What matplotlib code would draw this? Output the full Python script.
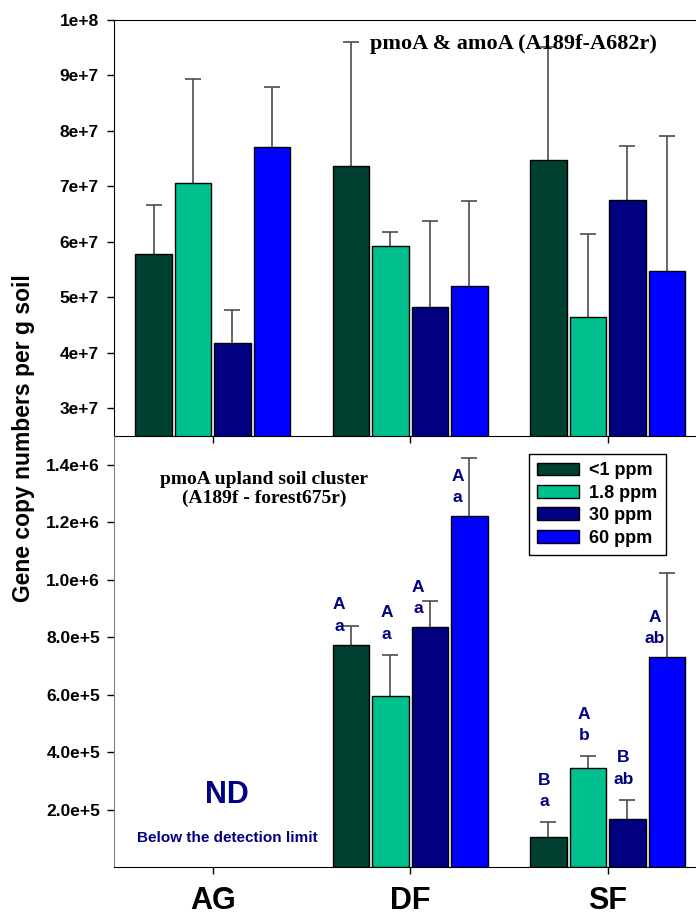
import numpy as np
import matplotlib
matplotlib.use("Agg")
import matplotlib.pyplot as plt
from matplotlib.ticker import FixedLocator, FuncFormatter
from matplotlib.patches import Patch

# ---------------------------------------------------------
# data
# rows = CH4 treatment, columns = site (AG, DF, SF)
# ---------------------------------------------------------
sites = ["AG", "DF", "SF"]
treatments = ["<1 ppm", "1.8 ppm", "30 ppm", "60 ppm"]
colors = ["#004030", "#00C08F", "#000080", "#0000FF"]

# pmoA & amoA (A189f-A682r)
total_mean = np.array([[5.79e7, 7.37e7, 7.47e7],
                       [7.06e7, 5.93e7, 4.64e7],
                       [4.18e7, 4.82e7, 6.75e7],
                       [7.71e7, 5.20e7, 5.47e7]])
total_err = np.array([[0.88e7, 2.23e7, 2.05e7],
                      [1.88e7, 0.25e7, 1.50e7],
                      [0.59e7, 1.55e7, 0.98e7],
                      [1.08e7, 1.53e7, 2.44e7]])

# pmoA upland soil cluster (A189f - forest675r), AG not detected
usc_mean = np.array([[np.nan, 7.73e5, 1.03e5],
                     [np.nan, 5.94e5, 3.43e5],
                     [np.nan, 8.35e5, 1.66e5],
                     [np.nan, 1.221e6, 7.30e5]])
usc_err = np.array([[np.nan, 0.66e5, 0.53e5],
                    [np.nan, 1.44e5, 0.43e5],
                    [np.nan, 0.91e5, 0.68e5],
                    [np.nan, 2.02e5, 2.95e5]])

# significance letters (upper: site, lower: treatment)
usc_letters = [[None, "A\na", "B\na"],
               [None, "A\na", "A\nb"],
               [None, "A\na", "B\nab"],
               [None, "A\na", "A\nab"]]
# letter sits beside the whisker instead of on top of it
beside = [[False, True, False],
          [False, False, False],
          [False, True, False],
          [False, True, True]]

top_ticks = [3e7, 4e7, 5e7, 6e7, 7e7, 8e7, 9e7, 1e8]
bot_ticks = [2e5, 4e5, 6e5, 8e5, 1.0e6, 1.2e6, 1.4e6]

# ---------------------------------------------------------
# figure
# ---------------------------------------------------------
SANS = "Liberation Sans"
SERIF = "Liberation Serif"
plt.rcParams["font.family"] = [SANS, "DejaVu Sans"]
plt.rcParams["font.weight"] = "bold"

fig = plt.figure(figsize=(6.96, 9.17), dpi=100)
ax1 = fig.add_axes([0.1638, 0.5245, 0.8362, 0.4537])
ax2 = fig.add_axes([0.1638, 0.0545, 0.8362, 0.4700])
ax2.patch.set_visible(False)   # keep the top panel's bottom spine visible

x = np.arange(len(sites))
offs = (np.arange(len(treatments)) - 1.5) * 0.2
width = 0.185


def upper_whiskers(ax, xs, mean, err):
    # one-sided error bars: line from bar top, cap at the end only
    ax.vlines(xs, mean, mean + err, color="#4d4d4d", lw=1.2, zorder=1)
    ax.plot(xs, mean + err, ls="none", marker="_", ms=11, mew=1.2,
            color="#4d4d4d", zorder=1)


for i in range(len(treatments)):
    ax1.bar(x + offs[i], total_mean[i], width, color=colors[i],
            edgecolor="black", linewidth=1, zorder=2)
    upper_whiskers(ax1, x + offs[i], total_mean[i], total_err[i])
    ax2.bar(x + offs[i], usc_mean[i], width, color=colors[i],
            edgecolor="black", linewidth=1, zorder=2)
    upper_whiskers(ax2, x + offs[i], usc_mean[i], usc_err[i])

# letters
for i in range(len(treatments)):
    for j in range(len(sites)):
        lab = usc_letters[i][j]
        if lab is None:
            continue
        if beside[i][j]:
            y, dx, dy = usc_mean[i][j], -12, 14
        else:
            y, dx, dy = usc_mean[i][j] + usc_err[i][j], -4, 16
        ax2.annotate(lab, (x[j] + offs[i], y), xytext=(dx, dy),
                     textcoords="offset pixels", ha="center", va="baseline",
                     fontsize=12.5, fontweight="bold", color="#000080",
                     linespacing=1.55, family=SANS)

# axes styling
for ax in (ax1, ax2):
    ax.set_xlim(-0.5, 2.447)
    ax.spines["right"].set_visible(False)
    ax.set_xticks(x)
    ax.tick_params(axis="both", direction="out", length=5, width=1)

ax1.set_ylim(2.5e7, 1e8)
ax1.yaxis.set_major_locator(FixedLocator(top_ticks))
ax1.yaxis.set_major_formatter(FuncFormatter(
    lambda v, p: "{}e+{}".format(f"{v:.0e}".split("e")[0], int(f"{v:.0e}".split("e")[1]))))
ax1.set_xticklabels([])
ax1.tick_params(axis="y", labelsize=12.5, pad=6)

ax2.set_ylim(0, 1.5e6)
ax2.yaxis.set_major_locator(FixedLocator(bot_ticks))
ax2.yaxis.set_major_formatter(FuncFormatter(
    lambda v, p: "{}e+{}".format(f"{v:.1e}".split("e")[0], int(f"{v:.1e}".split("e")[1]))))
ax2.spines["top"].set_visible(False)
ax2.spines["left"].set_color("#808080")
ax2.tick_params(axis="y", labelsize=12.5, pad=5)
ax2.set_xticklabels(sites, fontsize=22, fontweight="bold")
ax2.tick_params(axis="x", pad=9)

# texts
ax1.text(0.686, 0.942, "pmoA & amoA (A189f-A682r)", transform=ax1.transAxes,
         ha="center", va="center", fontsize=16, fontweight="bold", family=SERIF)
ax2.text(0.258, 0.877, "pmoA upland soil cluster\n(A189f - forest675r)",
         transform=ax2.transAxes, ha="center", va="center", fontsize=14,
         fontweight="bold", family=SERIF, linespacing=1.1)
ax2.text(0.194, 0.167, "ND", transform=ax2.transAxes, ha="center", va="center",
         fontsize=22, fontweight="bold", color="#000080")
ax2.text(0.194, 0.067, "Below the detection limit", transform=ax2.transAxes,
         ha="center", va="center", fontsize=11, fontweight="bold", color="#000080")

fig.text(0.034, 0.522, "Gene copy numbers per g soil", rotation=90,
         ha="center", va="center", fontsize=16.5, fontweight="bold")

# legend
handles = [Patch(facecolor=c, edgecolor="black", linewidth=1) for c in colors]
leg = ax2.legend(handles, treatments, loc="upper right",
                 bbox_to_anchor=(0.948, 0.958), borderaxespad=0,
                 fancybox=False, edgecolor="black", framealpha=1,
                 prop=dict(family=SANS, weight="bold", size=13),
                 handlelength=2.3, handleheight=0.7, labelspacing=0.3,
                 handletextpad=0.6, borderpad=0.45)
leg.get_frame().set_linewidth(1)

fig.savefig("out.png", dpi=100)
